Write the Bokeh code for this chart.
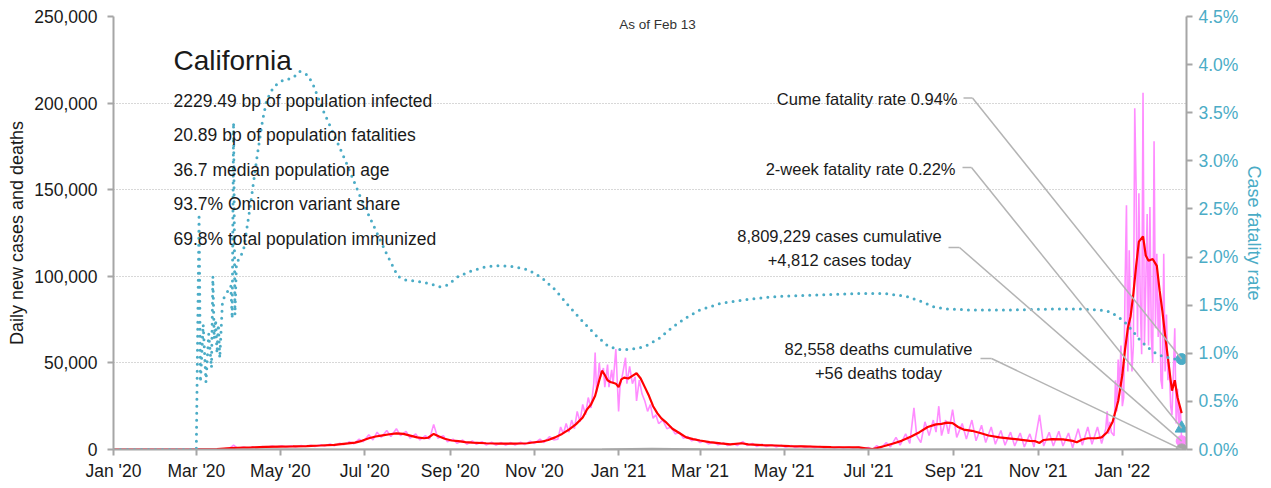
import pandas as pd
from bokeh.plotting import figure
from bokeh.models import (Range1d, LinearAxis, FixedTicker, NumeralTickFormatter,
                          PrintfTickFormatter, DatetimeTickFormatter, Label, Arrow)
from bokeh.embed import file_html
from bokeh.resources import INLINE

# ---------------- data ----------------
STATE = "California"
AS_OF = "As of Feb 13"
STATS_LINES = [
    "2229.49 bp of population infected",
    "20.89 bp of population fatalities",
    "36.7 median population age",
    "93.7% Omicron variant share",
    "69.8% total population immunized",
]
LAST_DATE = "2022-02-13"
CUM_CASES = 8809229
TODAY_CASES = 4812
CUM_DEATHS = 82558
TODAY_DEATHS = 56
CUM_CFR = 0.94
TWO_WEEK_CFR = 0.22

Y_TICKS = [0, 50000, 100000, 150000, 200000, 250000]
CFR_TICKS = [0.0, 0.5, 1.0, 1.5, 2.0, 2.5, 3.0, 3.5, 4.0, 4.5]
X_TICK_DATES = ["2020-01-01", "2020-03-01", "2020-05-01", "2020-07-01", "2020-09-01",
                "2020-11-01", "2021-01-01", "2021-03-01", "2021-05-01", "2021-07-01",
                "2021-09-01", "2021-11-01", "2022-01-01"]

# 7-day average of new cases (red)
AVG_DATES = ["2020-01-01", "2020-03-01", "2020-03-16", "2020-03-26", "2020-03-31", "2020-04-10",
             "2020-04-20", "2020-04-30", "2020-05-10", "2020-05-20", "2020-05-30", "2020-06-09",
             "2020-06-19", "2020-06-24", "2020-06-29", "2020-07-04", "2020-07-09", "2020-07-14",
             "2020-07-19", "2020-07-24", "2020-07-29", "2020-08-03", "2020-08-08", "2020-08-13",
             "2020-08-16", "2020-08-20", "2020-08-24", "2020-08-28", "2020-09-02", "2020-09-07",
             "2020-09-12", "2020-09-17", "2020-09-27", "2020-10-07", "2020-10-17", "2020-10-27",
             "2020-11-01", "2020-11-06", "2020-11-11", "2020-11-16", "2020-11-21", "2020-11-26",
             "2020-12-01", "2020-12-06", "2020-12-09", "2020-12-12", "2020-12-15", "2020-12-18",
             "2020-12-20", "2020-12-22", "2020-12-24", "2020-12-26", "2020-12-28", "2020-12-30",
             "2021-01-01", "2021-01-03", "2021-01-05", "2021-01-08", "2021-01-11", "2021-01-14",
             "2021-01-17", "2021-01-20", "2021-01-23", "2021-01-26", "2021-01-29", "2021-02-01",
             "2021-02-04", "2021-02-09", "2021-02-14", "2021-02-19", "2021-02-24", "2021-03-01",
             "2021-03-08", "2021-03-16", "2021-03-23", "2021-03-31", "2021-04-05", "2021-04-15",
             "2021-04-25", "2021-05-05", "2021-05-15", "2021-05-25", "2021-06-04", "2021-06-14",
             "2021-06-24", "2021-06-29", "2021-07-04", "2021-07-07", "2021-07-12", "2021-07-19",
             "2021-07-25", "2021-08-01", "2021-08-07", "2021-08-13", "2021-08-19", "2021-08-23",
             "2021-08-27", "2021-08-31", "2021-09-04", "2021-09-08", "2021-09-14", "2021-09-20",
             "2021-09-26", "2021-10-04", "2021-10-12", "2021-10-20", "2021-10-26", "2021-10-30",
             "2021-11-02", "2021-11-05", "2021-11-11", "2021-11-19", "2021-11-26", "2021-11-29",
             "2021-12-03", "2021-12-07", "2021-12-13", "2021-12-17", "2021-12-21", "2021-12-25",
             "2021-12-29", "2022-01-01", "2022-01-03", "2022-01-05", "2022-01-07", "2022-01-09",
             "2022-01-11", "2022-01-13", "2022-01-16", "2022-01-18", "2022-01-20", "2022-01-23",
             "2022-01-26", "2022-01-28", "2022-01-30", "2022-02-01", "2022-02-03", "2022-02-05",
             "2022-02-06", "2022-02-08", "2022-02-10", "2022-02-11", "2022-02-13"]
AVG_CASES = [0, 20, 300, 800, 1000, 1200,
             1500, 1700, 1800, 2000, 2300, 2700,
             3500, 4000, 5000, 6500, 7500, 8200,
             8800, 9300, 9000, 8000, 7000, 6500,
             6800, 9000, 7500, 6200, 5200, 4800,
             4300, 4000, 3600, 3400, 3400, 3600,
             4200, 4500, 5500, 7000, 9000, 11500,
             14500, 18500, 23000, 26000, 31000, 40000,
             45500, 43000, 40000, 39000, 38500, 38000,
             36000, 40500, 41500, 41000, 42500, 44000,
             41000, 36000, 31000, 25000, 21000, 18000,
             16000, 12000, 9500, 7000, 6000, 5200,
             4300, 3500, 3000, 3600, 3000, 2500,
             2300, 2000, 1800, 1600, 1400, 1300,
             1200, 700, 200, 800, 1900, 3500,
             5000, 7500, 10000, 13000, 14500, 14800,
             15500, 15200, 13000, 11500, 10800, 9500,
             8100, 7000, 6300, 5600, 5000, 4800,
             3800, 5500, 6000, 5800, 5000, 4200,
             5800, 6500, 6500, 7000, 10000, 16000,
             28000, 43000, 58000, 70000, 77000, 90000,
             106000, 120000, 123000, 112000, 109000, 110000,
             106000, 92000, 80000, 66000, 53000, 40000,
             34000, 40000, 30000, 27000, 21000]

# daily new cases (pink)
DAILY_DATES = ["2020-01-01", "2020-03-15", "2020-03-22", "2020-03-25", "2020-03-28", "2020-03-31",
               "2020-04-04", "2020-04-07", "2020-04-11", "2020-04-14", "2020-04-18", "2020-04-21",
               "2020-04-25", "2020-04-28", "2020-05-02", "2020-05-05", "2020-05-09", "2020-05-12",
               "2020-05-16", "2020-05-19", "2020-05-23", "2020-05-26", "2020-05-30", "2020-06-02",
               "2020-06-06", "2020-06-09", "2020-06-13", "2020-06-16", "2020-06-20", "2020-06-23",
               "2020-06-27", "2020-06-30", "2020-07-04", "2020-07-07", "2020-07-10", "2020-07-13",
               "2020-07-17", "2020-07-20", "2020-07-24", "2020-07-27", "2020-07-31", "2020-08-03",
               "2020-08-07", "2020-08-10", "2020-08-14", "2020-08-17", "2020-08-20", "2020-08-23",
               "2020-08-27", "2020-08-30", "2020-09-03", "2020-09-06", "2020-09-10", "2020-09-13",
               "2020-09-17", "2020-09-20", "2020-09-24", "2020-09-27", "2020-10-01", "2020-10-04",
               "2020-10-08", "2020-10-11", "2020-10-15", "2020-10-18", "2020-10-22", "2020-10-25",
               "2020-10-29", "2020-11-01", "2020-11-05", "2020-11-08", "2020-11-12", "2020-11-15",
               "2020-11-18", "2020-11-20", "2020-11-22", "2020-11-24", "2020-11-26", "2020-11-28",
               "2020-11-30", "2020-12-02", "2020-12-04", "2020-12-06", "2020-12-08", "2020-12-10",
               "2020-12-12", "2020-12-14", "2020-12-15", "2020-12-16", "2020-12-17", "2020-12-18",
               "2020-12-19", "2020-12-21", "2020-12-22", "2020-12-24", "2020-12-25", "2020-12-27",
               "2020-12-28", "2020-12-30", "2021-01-01", "2021-01-02", "2021-01-04", "2021-01-06",
               "2021-01-07", "2021-01-09", "2021-01-11", "2021-01-13", "2021-01-14", "2021-01-16",
               "2021-01-18", "2021-01-20", "2021-01-22", "2021-01-24", "2021-01-26", "2021-01-28",
               "2021-01-30", "2021-02-02", "2021-02-05", "2021-02-08", "2021-02-11", "2021-02-14",
               "2021-02-17", "2021-02-20", "2021-02-23", "2021-02-26", "2021-03-01", "2021-03-04",
               "2021-03-07", "2021-03-11", "2021-03-14", "2021-03-18", "2021-03-21", "2021-03-25",
               "2021-03-28", "2021-04-01", "2021-04-04", "2021-04-08", "2021-04-11", "2021-04-15",
               "2021-04-18", "2021-04-22", "2021-04-25", "2021-04-29", "2021-05-02", "2021-05-06",
               "2021-05-09", "2021-05-13", "2021-05-16", "2021-05-20", "2021-05-23", "2021-05-27",
               "2021-05-30", "2021-06-03", "2021-06-06", "2021-06-10", "2021-06-13", "2021-06-17",
               "2021-06-20", "2021-06-24", "2021-06-27", "2021-07-01", "2021-07-04", "2021-07-07",
               "2021-07-10", "2021-07-14", "2021-07-17", "2021-07-21", "2021-07-24", "2021-07-28",
               "2021-07-31", "2021-08-03", "2021-08-05", "2021-08-08", "2021-08-11", "2021-08-14",
               "2021-08-17", "2021-08-19", "2021-08-21", "2021-08-23", "2021-08-26", "2021-08-28",
               "2021-08-31", "2021-09-03", "2021-09-07", "2021-09-10", "2021-09-14", "2021-09-17",
               "2021-09-21", "2021-09-24", "2021-09-28", "2021-10-01", "2021-10-05", "2021-10-08",
               "2021-10-12", "2021-10-15", "2021-10-19", "2021-10-22", "2021-10-26", "2021-10-29",
               "2021-11-02", "2021-11-05", "2021-11-09", "2021-11-12", "2021-11-16", "2021-11-19",
               "2021-11-23", "2021-11-26", "2021-11-30", "2021-12-03", "2021-12-07", "2021-12-10",
               "2021-12-14", "2021-12-17", "2021-12-20", "2021-12-21", "2021-12-22", "2021-12-23",
               "2021-12-24", "2021-12-26", "2021-12-27", "2021-12-28", "2021-12-29", "2021-12-30",
               "2021-12-31", "2022-01-01", "2022-01-02", "2022-01-03", "2022-01-04", "2022-01-05",
               "2022-01-06", "2022-01-07", "2022-01-08", "2022-01-09", "2022-01-10", "2022-01-11",
               "2022-01-12", "2022-01-13", "2022-01-14", "2022-01-15", "2022-01-16", "2022-01-17",
               "2022-01-18", "2022-01-19", "2022-01-20", "2022-01-21", "2022-01-22", "2022-01-23",
               "2022-01-24", "2022-01-25", "2022-01-26", "2022-01-27", "2022-01-28", "2022-01-29",
               "2022-01-30", "2022-01-31", "2022-02-01", "2022-02-02", "2022-02-03", "2022-02-04",
               "2022-02-05", "2022-02-06", "2022-02-07", "2022-02-08", "2022-02-09", "2022-02-10",
               "2022-02-11", "2022-02-12", "2022-02-13"]
DAILY_CASES = [0, 200, 500, 700, 2500, 600,
               1500, 900, 1400, 1000, 1700, 1300,
               2000, 1400, 2100, 1500, 2200, 1500,
               2300, 1700, 2500, 1800, 2800, 2000,
               3200, 2200, 3600, 2800, 4500, 3300,
               6000, 4500, 8500, 5500, 10000, 7000,
               11000, 7500, 12000, 8000, 10500, 6500,
               9000, 5500, 8000, 6000, 14500, 6500,
               8000, 4500, 6000, 3500, 5500, 3000,
               5000, 3000, 4500, 2600, 4200, 2500,
               4000, 2500, 4000, 2600, 4200, 2800,
               4800, 3500, 6000, 4000, 7500, 5500,
               6000, 13000, 9000, 15000, 10000, 17000,
               12000, 22000, 16000, 26000, 20000, 30000,
               24000, 38000, 56000, 33000, 40000, 50000,
               42000, 47000, 36000, 49000, 36000, 46000,
               38000, 58000, 22000, 36000, 44000, 53000,
               38000, 48000, 38000, 42000, 28000, 40000,
               32000, 28000, 22000, 26000, 18000, 20000,
               15000, 17000, 12000, 13000, 9000, 10000,
               6500, 7500, 5000, 6000, 4000, 5000,
               3200, 4200, 2700, 3800, 2300, 3500,
               2300, 4500, 2300, 3500, 1800, 3000,
               1700, 2800, 1500, 2500, 1300, 2300,
               1200, 2100, 1100, 1900, 1000, 1700,
               900, 1600, 800, 1500, 800, 1400,
               700, 1400, 500, 1200, 0, 2200,
               800, 4000, 1500, 7000, 2500, 9000,
               3500, 24000, 8000, 4000, 16000, 8000,
               17000, 10000, 25000, 8000, 17000, 9000,
               23000, 7000, 15000, 6000, 17000, 5000,
               14000, 4000, 13000, 3000, 11000, 2500,
               10000, 2000, 9500, 1500, 9000, 1500,
               20000, 2000, 10000, 2000, 10500, 2000,
               9500, 1000, 12000, 2500, 13000, 3000,
               13000, 3500, 12000, 22000, 9000, 16000,
               10000, 8000, 40000, 22000, 52000, 35000,
               60000, 25000, 30000, 95000, 141000, 45000,
               115000, 70000, 45000, 60000, 197000, 151000,
               65000, 148000, 85000, 55000, 206000, 60000,
               95000, 136000, 60000, 140000, 65000, 50000,
               178000, 70000, 113000, 65000, 90000, 40000,
               35000, 113000, 45000, 78000, 40000, 50000,
               25000, 20000, 45000, 70000, 15000, 35000,
               10000, 25000, 4812]

# 7-day average of new deaths (grey, tiny on the case scale)
DEATH_DATES = ["2020-01-01", "2020-03-15", "2020-04-15", "2020-05-15", "2020-06-15", "2020-07-15",
               "2020-08-01", "2020-09-01", "2020-10-01", "2020-11-01", "2020-12-01", "2020-12-20",
               "2021-01-10", "2021-01-25", "2021-02-10", "2021-03-01", "2021-04-01", "2021-05-01",
               "2021-06-01", "2021-07-01", "2021-08-01", "2021-09-01", "2021-10-01", "2021-11-01",
               "2021-12-01", "2022-01-01", "2022-01-20", "2022-02-05", "2022-02-13"]
DEATHS = [0, 5, 80, 75, 60, 100,
          130, 110, 70, 40, 60, 200,
          450, 550, 450, 250, 80, 40,
          25, 20, 30, 100, 80, 50,
          40, 50, 120, 180, 56]

# case fatality rate, % (teal dotted, right axis)
CFR_DATES = ["2020-01-01", "2020-02-29", "2020-03-01", "2020-03-03", "2020-03-04", "2020-03-06",
             "2020-03-08", "2020-03-10", "2020-03-12", "2020-03-13", "2020-03-14", "2020-03-15",
             "2020-03-16", "2020-03-17", "2020-03-18", "2020-03-20", "2020-03-22", "2020-03-24",
             "2020-03-26", "2020-03-27", "2020-03-28", "2020-03-29", "2020-03-30", "2020-04-01",
             "2020-04-04", "2020-04-09", "2020-04-14", "2020-04-18", "2020-04-21", "2020-04-26",
             "2020-05-03", "2020-05-10", "2020-05-15", "2020-05-21", "2020-05-25", "2020-06-01",
             "2020-06-11", "2020-06-18", "2020-06-28", "2020-07-08", "2020-07-17", "2020-07-25",
             "2020-07-31", "2020-08-08", "2020-08-18", "2020-08-24", "2020-08-30", "2020-09-07",
             "2020-09-17", "2020-09-27", "2020-10-07", "2020-10-17", "2020-10-27", "2020-11-06",
             "2020-11-16", "2020-11-26", "2020-12-06", "2020-12-16", "2020-12-24", "2020-12-31",
             "2021-01-10", "2021-01-20", "2021-01-30", "2021-02-09", "2021-02-19", "2021-03-01",
             "2021-03-16", "2021-04-05", "2021-04-25", "2021-05-15", "2021-06-04", "2021-06-24",
             "2021-07-14", "2021-07-29", "2021-08-08", "2021-08-18", "2021-08-28", "2021-09-12",
             "2021-10-12", "2021-11-11", "2021-12-01", "2021-12-16", "2021-12-23", "2021-12-29",
             "2022-01-03", "2022-01-08", "2022-01-13", "2022-01-18", "2022-01-23", "2022-01-28",
             "2022-02-02", "2022-02-07", "2022-02-13"]
CFR_PCT = [0.0, 0.0, 0.0, 2.45, 0.70, 1.30,
           0.70, 1.20, 0.85, 1.80, 1.15, 1.35,
           1.00, 1.30, 0.95, 1.55, 1.60, 1.65,
           1.70, 1.36, 3.40, 1.40, 1.90, 2.00,
           2.05, 2.52, 3.04, 3.42, 3.63, 3.77,
           3.84, 3.86, 3.93, 3.89, 3.78, 3.52,
           3.20, 2.97, 2.62, 2.31, 2.03, 1.80,
           1.76, 1.75, 1.72, 1.69, 1.71, 1.80,
           1.86, 1.90, 1.91, 1.90, 1.87, 1.79,
           1.66, 1.49, 1.33, 1.18, 1.08, 1.04,
           1.04, 1.07, 1.15, 1.27, 1.37, 1.45,
           1.52, 1.56, 1.59, 1.60, 1.61, 1.62,
           1.62, 1.59, 1.54, 1.48, 1.46, 1.45,
           1.45, 1.46, 1.46, 1.45, 1.43, 1.38,
           1.32, 1.24, 1.15, 1.08, 1.02, 0.98,
           0.96, 0.94, 0.94]

# ---------------- styling ----------------
FONT = "Liberation Sans"
TEAL = "#4bacc6"
RED = "#ff0000"
PINK = "#ff8cff"
GREY = "#a6a6a6"
LEADER = "#b4b4b4"
INK = "#1a1a1a"
TICK_SIZE = "17.5px"

to_dt = pd.to_datetime
last = pd.Timestamp(LAST_DATE)
x_start = pd.Timestamp(X_TICK_DATES[0])
x_end = last + pd.Timedelta(hours=84)  # small room so the end markers are not cut

p = figure(width=1268, height=486, x_axis_type="datetime", output_backend="svg",
           toolbar_location=None,
           x_range=Range1d(x_start, x_end), y_range=Range1d(Y_TICKS[0], Y_TICKS[-1]),
           min_border_left=113, min_border_right=82, min_border_top=16, min_border_bottom=37)
p.extra_y_ranges = {"cfr": Range1d(CFR_TICKS[0], CFR_TICKS[-1])}
p.outline_line_color = None
p.background_fill_color = "white"
p.border_fill_color = "white"

p.xgrid.visible = False
p.ygrid.grid_line_color = "#b0b0b0"
p.ygrid.grid_line_dash = "1 2"
p.ygrid.grid_line_width = 1
p.ygrid.ticker = FixedTicker(ticks=Y_TICKS[1:])

# left axis
ya = p.yaxis[0]
ya.ticker = FixedTicker(ticks=Y_TICKS)
ya.formatter = NumeralTickFormatter(format="0,0")
ya.axis_label = "Daily new cases and deaths"
ya.axis_label_text_font = FONT
ya.axis_label_text_font_style = "normal"
ya.axis_label_text_font_size = "18px"
ya.axis_label_text_color = INK
ya.axis_label_standoff = 4
ya.major_label_text_font = FONT
ya.major_label_text_font_size = TICK_SIZE
ya.major_label_text_color = INK
ya.major_label_standoff = 10
ya.axis_line_color = GREY
ya.axis_line_width = 2
ya.major_tick_line_color = GREY
ya.major_tick_line_width = 2
ya.major_tick_out = 6
ya.major_tick_in = 0
ya.minor_tick_line_color = None

# right axis
ra = LinearAxis(y_range_name="cfr", axis_label="Case fatality rate")
ra.ticker = FixedTicker(ticks=CFR_TICKS)
ra.formatter = PrintfTickFormatter(format="%.1f%%")
ra.axis_label_text_font = FONT
ra.axis_label_text_font_style = "normal"
ra.axis_label_text_font_size = "18px"
ra.axis_label_text_color = TEAL
ra.axis_label_standoff = 3
ra.major_label_text_font = FONT
ra.major_label_text_font_size = TICK_SIZE
ra.major_label_text_color = TEAL
ra.major_label_standoff = 6
ra.axis_line_color = GREY
ra.axis_line_width = 2
ra.major_tick_line_color = GREY
ra.major_tick_line_width = 2
ra.major_tick_out = 6
ra.major_tick_in = 0
ra.minor_tick_line_color = None
p.add_layout(ra, "right")

# bottom axis
xa = p.xaxis[0]
tick_ms = [pd.Timestamp(d).timestamp() * 1000 for d in X_TICK_DATES]
xa.ticker = FixedTicker(ticks=tick_ms)
fmt = "%b '%y"
xa.formatter = DatetimeTickFormatter(years=fmt, months=fmt, days=fmt, hours=fmt,
                                     minutes=fmt, seconds=fmt, milliseconds=fmt,
                                     microseconds=fmt, hourmin=fmt, minsec=fmt)
xa.major_label_text_font = FONT
xa.major_label_text_font_size = TICK_SIZE
xa.major_label_text_color = INK
xa.major_label_standoff = 5
xa.axis_line_color = GREY
xa.axis_line_width = 2
xa.major_tick_line_color = GREY
xa.major_tick_line_width = 2
xa.major_tick_out = 6
xa.major_tick_in = 0
xa.minor_tick_line_color = None

# ---------------- series ----------------
p.line(to_dt(DAILY_DATES), DAILY_CASES, line_color=PINK, line_width=1.6)
p.line(to_dt(DEATH_DATES), DEATHS, line_color=GREY, line_width=1.5)
p.line(to_dt(AVG_DATES), AVG_CASES, line_color=RED, line_width=2.2)
p.line(to_dt(CFR_DATES), CFR_PCT, y_range_name="cfr", line_color=TEAL, line_width=3,
       line_dash="0 7", line_cap="round")

# end-of-series markers
p.scatter([last], [TODAY_CASES], marker="circle", size=11, fill_color=PINK, line_color=PINK)
p.scatter([last], [TODAY_DEATHS], marker="circle", size=11, fill_color=GREY, line_color=GREY)
p.scatter([last], [CUM_CFR], y_range_name="cfr", marker="circle", size=11,
          fill_color=TEAL, line_color=TEAL)
p.scatter([last], [TWO_WEEK_CFR], y_range_name="cfr", marker="triangle", size=13,
          fill_color=TEAL, line_color=TEAL)

# ---------------- text ----------------
def add_label(text, x, y, size, align="left", color=INK):
    p.add_layout(Label(x=x, y=y, x_units="screen", y_units="screen", text=text,
                       text_font=FONT, text_font_size=size, text_color=color,
                       text_align=align, text_baseline="middle"))

add_label(STATE, 60, 389, "28px")
for i, line in enumerate(STATS_LINES):
    add_label(line, 60, 349 - i * 34.6, "17.5px")
add_label(AS_OF, 544, 425, "13.5px", align="center", color="#333333")

add_label(f"Cume fatality rate {CUM_CFR:.2f}%", 844, 351, "16.5px", align="right")
add_label(f"2-week fatality rate {TWO_WEEK_CFR:.2f}%", 842, 281, "16.5px", align="right")
add_label(f"{CUM_CASES:,} cases cumulative", 726, 214, "16.5px", align="center")
add_label(f"+{TODAY_CASES:,} cases today", 726, 189.5, "16.5px", align="center")
add_label(f"{CUM_DEATHS:,} deaths cumulative", 765, 101, "16.5px", align="center")
add_label(f"+{TODAY_DEATHS:,} deaths today", 765, 77, "16.5px", align="center")

# leader lines: short horizontal stub from the label, then a line to the marker
last_ms = last.timestamp() * 1000
leaders = [
    (850, 859, 351.5, CUM_CFR, "cfr"),
    (849, 858, 282, TWO_WEEK_CFR, "cfr"),
    (835, 846, 202, TODAY_CASES, "default"),
    (867, 878, 91, TODAY_DEATHS, "default"),
]
for sx0, sx1, sy, yv, rng in leaders:
    p.add_layout(Arrow(end=None, x_start=sx0, y_start=sy, x_end=sx1, y_end=sy,
                       start_units="screen", end_units="screen",
                       line_color=LEADER, line_width=1.5))
    p.add_layout(Arrow(end=None, x_start=sx1, y_start=sy, x_end=last_ms, y_end=yv,
                       start_units="screen", end_units="data", y_range_name=rng,
                       line_color=LEADER, line_width=1.5))

open("out.html", "w").write(file_html(p, INLINE))
